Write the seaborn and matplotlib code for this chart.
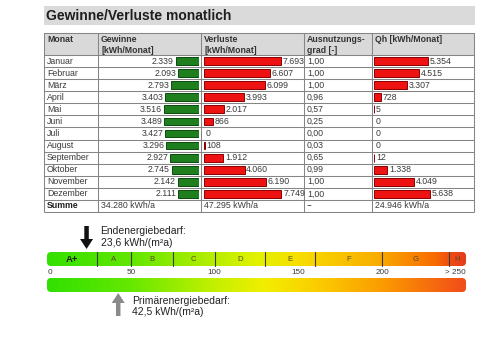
import numpy as np
import pandas as pd
import matplotlib
matplotlib.use("Agg")
import matplotlib.pyplot as plt
import seaborn as sns
from matplotlib.patches import Rectangle, FancyBboxPatch, FancyArrow
from matplotlib.colors import LinearSegmentedColormap

# ---- monthly balance ----
months = ["Januar", "Februar", "März", "April", "Mai", "Juni", "Juli",
          "August", "September", "Oktober", "November", "Dezember"]
gewinne = [2339, 2093, 2793, 3403, 3516, 3489, 3427, 3296, 2927, 2745, 2142, 2111]
verluste = [7693, 6607, 6099, 3993, 2017, 866, 0, 108, 1912, 4060, 6190, 7749]
ausnutzung = [1.00, 1.00, 1.00, 0.96, 0.57, 0.25, 0.00, 0.03, 0.65, 0.99, 1.00, 1.00]
qh = [5354, 4515, 3307, 728, 5, 0, 0, 0, 12, 1338, 4049, 5638]
summe_gewinne = 34280
summe_verluste = 47295
summe_qh = 24946
headers = ["Monat", "Gewinne\n[kWh/Monat]", "Verluste\n[kWh/Monat]",
           "Ausnutzungs-\ngrad [-]", "Qh [kWh/Monat]"]
title = "Gewinne/Verluste monatlich"

# ---- energy scale ----
class_labels = ["A+", "A", "B", "C", "D", "E", "F", "G", "H"]
class_bounds = [0, 30, 50, 75, 100, 130, 160, 200, 240, 250]
scale_ticks = [0, 50, 100, 150, 200, 250]
scale_tick_labels = ["0", "50", "100", "150", "200", "> 250"]
endenergie = 23.6
primaerenergie = 42.5

sns.set_style("white")
plt.rcParams["font.family"] = ["Liberation Sans", "DejaVu Sans"]

W, H = 494, 350
fig = plt.figure(figsize=(W / 100, H / 100), dpi=100)


def px_axes(x0, y0, x1, y1):
    return fig.add_axes([x0 / W, 1 - y1 / H, (x1 - x0) / W, (y1 - y0) / H])


def de_int(v):
    return f"{v:,}".replace(",", ".")


def de_dec(v, n):
    return f"{v:.{n}f}".replace(".", ",")


# background canvas in pixel units
bg = px_axes(0, 0, W, H)
bg.set_xlim(0, W)
bg.set_ylim(H, 0)
bg.axis("off")

TXT = "#3a3a3a"
GRID = "#858585"
FS = 6.3

# title band
bg.add_patch(Rectangle((44, 6), 431, 18.5, facecolor="#dadada", edgecolor="none"))
bg.text(45.5, 15.5, title, fontsize=10, fontweight="bold", color="#1e1e1e",
        ha="left", va="center")

# table grid
col_x = [44, 98, 201, 304, 372, 474]
head_top, head_bot = 33, 55
n_rows = len(months) + 1
row_h = (212 - head_bot) / n_rows
table_bot = head_bot + n_rows * row_h

bg.add_patch(Rectangle((col_x[0], head_top), col_x[-1] - col_x[0], head_bot - head_top,
                       facecolor="#d9d9d9", edgecolor="none"))
for x in col_x:
    bg.plot([x, x], [head_top, table_bot], color=GRID, lw=0.75, solid_capstyle="butt")
for k in range(n_rows + 1):
    y = head_bot + k * row_h
    bg.plot([col_x[0], col_x[-1]], [y, y], color=GRID, lw=0.75, solid_capstyle="butt")
bg.plot([col_x[0], col_x[-1]], [head_top, head_top], color=GRID, lw=0.75)

for x, h in zip(col_x[:-1], headers):
    bg.text(x + 3, head_top + 1.5, h, fontsize=FS, fontweight="bold", color="#333333",
            ha="left", va="top", linespacing=1.3)

for i, m in enumerate(months):
    yc = head_bot + (i + 0.5) * row_h
    bg.text(col_x[0] + 3, yc, m, fontsize=FS, color=TXT, ha="left", va="center")
    bg.text(col_x[3] + 3, yc, de_dec(ausnutzung[i], 2), fontsize=FS, color=TXT,
            ha="left", va="center")

ys = head_bot + (n_rows - 0.5) * row_h
bg.text(col_x[0] + 3, ys, "Summe", fontsize=FS, fontweight="bold", color="#222222",
        ha="left", va="center")
bg.text(col_x[1] + 3, ys, de_int(summe_gewinne) + " kWh/a", fontsize=FS, color=TXT,
        ha="left", va="center")
bg.text(col_x[2] + 3, ys, de_int(summe_verluste) + " kWh/a", fontsize=FS, color=TXT,
        ha="left", va="center")
bg.text(col_x[3] + 3, ys, "--", fontsize=FS, color=TXT, ha="left", va="center")
bg.text(col_x[4] + 3, ys, de_int(summe_qh) + " kWh/a", fontsize=FS, color=TXT,
        ha="left", va="center")


def bar_column(x0, x1, values, fill, edge, inverted):
    ax = px_axes(x0, head_bot, x1, head_bot + len(months) * row_h)
    df = pd.DataFrame({"Monat": months, "Wert": values})
    sns.barplot(data=df, x="Wert", y="Monat", orient="h", color=fill, saturation=1,
                width=0.64, edgecolor=edge, linewidth=0.7, errorbar=None, ax=ax)
    ax.set_xlim((10000, 0) if inverted else (0, 10000))
    ax.set_ylim(len(months) - 0.5, -0.5)
    for p in ax.patches:
        if p.get_width() == 0:
            p.set_linewidth(0)
    ax.bar_label(ax.containers[0], labels=[de_int(v) for v in values], padding=1.2,
                 fontsize=FS, color=TXT)
    ax.axis("off")
    return ax


bar_column(99, 199, gewinne, "#1f7f1f", "#0d4a0d", inverted=True)
bar_column(204, 304, verluste, "#ee1212", "#8a0000", inverted=False)
bar_column(374, 474, qh, "#ee1212", "#8a0000", inverted=False)

# ---- energy efficiency scale ----
sc = px_axes(47, 220, 466, 322)
sc.set_xlim(0, 250)
sc.set_ylim(322, 220)
sc.axis("off")
xunit = (466 - 47) / 250.0  # pixels per kWh/(m²a)

top_cmap = LinearSegmentedColormap.from_list("klassen", [
    (0.0, "#34e000"), (0.2, "#62e600"), (0.4, "#b8ee00"), (0.5, "#e2f200"),
    (0.6, "#f7de00"), (0.78, "#f9b000"), (0.93, "#f86a00"), (0.96, "#ef4f10"),
    (1.0, "#e43c1c")])
bot_cmap = LinearSegmentedColormap.from_list("primaer", [
    (0.0, "#30e000"), (0.2, "#66e800"), (0.4, "#c4f000"), (0.52, "#f2ee00"),
    (0.65, "#fbcc00"), (0.8, "#fb9c00"), (1.0, "#f24c18")])

grad = np.linspace(0, 1, 512).reshape(1, -1)
rad = 4.0
for (y0, y1, cmap) in [(252, 266, top_cmap), (278, 292, bot_cmap)]:
    patch = FancyBboxPatch((0, y0), 250, y1 - y0,
                           boxstyle=f"round,pad=0,rounding_size={rad / xunit:.3f}",
                           mutation_aspect=xunit, facecolor="none", edgecolor="none")
    sc.add_patch(patch)
    im = sc.imshow(grad, extent=(0, 250, y1, y0), aspect="auto", cmap=cmap,
                   interpolation="bilinear")
    im.set_clip_path(patch)
sc.set_xlim(0, 250)
sc.set_ylim(322, 220)

for b in class_bounds[1:-1]:
    sc.plot([b, b], [252, 266], color="#3a3a3a", lw=0.8)
for lab, lo, hi in zip(class_labels, class_bounds[:-1], class_bounds[1:]):
    bold = lab == "A+"
    sc.text((lo + hi) / 2, 259.5, lab, fontsize=6.8 if bold else 5.6,
            fontweight="bold" if bold else "normal",
            color="#1a1a1a" if bold else "#5a4a20", ha="center", va="center")

for t, lab in zip(scale_ticks, scale_tick_labels):
    ha = "left" if t == scale_ticks[0] else ("right" if t == scale_ticks[-1] else "center")
    sc.text(t + (0.6 if ha == "left" else 0), 272.5, lab, fontsize=5.9, color="#3a3a3a",
            ha=ha, va="center")

shaft, head_w, head_l = 4.5 / xunit, 13 / xunit, 10
sc.add_patch(FancyArrow(endenergie, 226, 0, 23, width=shaft, head_width=head_w,
                        head_length=head_l, length_includes_head=True,
                        color="#111111", lw=0))
sc.add_patch(FancyArrow(primaerenergie, 316, 0, -23, width=shaft, head_width=head_w,
                        head_length=head_l, length_includes_head=True,
                        color="#8a8a8a", lw=0))

sc.annotate(f"Endenergiebedarf:\n{de_dec(endenergie, 1)} kWh/(m²a)",
            xy=(endenergie, 237), xytext=(14, 0), textcoords="offset pixels",
            fontsize=7.5, color="#222222", ha="left", va="center", linespacing=1.15)
sc.annotate(f"Primärenergiebedarf:\n{de_dec(primaerenergie, 1)} kWh/(m²a)",
            xy=(primaerenergie, 306.5), xytext=(14, 0), textcoords="offset pixels",
            fontsize=7.5, color="#222222", ha="left", va="center", linespacing=1.15)

fig.savefig("out.png", dpi=100, facecolor="white")
